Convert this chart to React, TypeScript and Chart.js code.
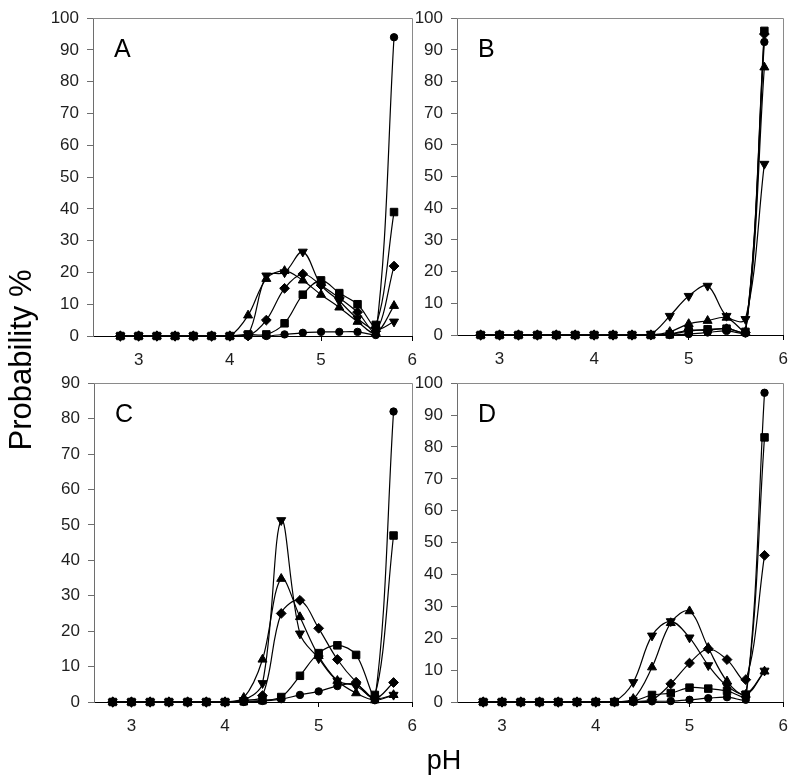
import React, { useEffect, useRef } from 'react';
import { Chart, registerables } from 'chart.js';

Chart.register(...registerables);

// pH values (x) shared by all panels
const PH = [2.8, 3.0, 3.2, 3.4, 3.6, 3.8, 4.0, 4.2, 4.4, 4.6, 4.8, 5.0, 5.2, 5.4, 5.6, 5.8];
const X_TICKS = [3, 4, 5, 6];
const PANEL_LETTERS = ['A', 'B', 'C', 'D'];
const Y_TITLE = 'Probability %';
const X_TITLE = 'pH';

// Panel A
const A_CIRCLE = [0, 0, 0, 0, 0, 0, 0, 0, 0, 0.5, 1, 1.3, 1.3, 1.3, 0.3, 94];
const A_SQUARE = [0, 0, 0, 0, 0, 0, 0, 0.5, 0.5, 4, 13, 17.5, 13.5, 10, 3.5, 39];
const A_DIAMOND = [0, 0, 0, 0, 0, 0, 0, 0, 5, 15, 19.5, 16, 12, 7.5, 1.5, 22];
const A_TRI_UP = [0, 0, 0, 0, 0, 0, 0, 6.5, 18, 20.5, 17.5, 13, 9, 4.5, 1, 9.5];
const A_TRI_DOWN = [0, 0, 0, 0, 0, 0, 0, 0.5, 19, 20, 26.5, 16, 11, 5.5, 2, 4.5];

// Panel B
const B_CIRCLE = [0, 0, 0, 0, 0, 0, 0, 0, 0, 0, 0, 0.3, 0.8, 1.3, 0.5, 92.5];
const B_SQUARE = [0, 0, 0, 0, 0, 0, 0, 0, 0, 0, 0.2, 1.2, 1.8, 2, 1, 96];
const B_DIAMOND = [0, 0, 0, 0, 0, 0, 0, 0, 0, 0, 0.3, 1.5, 1.5, 2, 0.8, 95];
const B_TRI_UP = [0, 0, 0, 0, 0, 0, 0, 0, 0, 0, 1, 3.5, 4.5, 5.5, 1, 84.5];
const B_TRI_DOWN = [0, 0, 0, 0, 0, 0, 0, 0, 0, 0.3, 6, 12.3, 15.5, 6, 5, 54];

// Panel C
const C_CIRCLE = [0, 0, 0, 0, 0, 0, 0, 0, 0.3, 0.8, 2, 3, 4.5, 5, 0.5, 82];
const C_SQUARE = [0, 0, 0, 0, 0, 0, 0, 0.2, 0.5, 1.4, 7.4, 13.8, 16, 13.3, 2, 47];
const C_DIAMOND = [0, 0, 0, 0, 0, 0, 0, 0.5, 1.8, 25, 28.7, 20.8, 12, 5.6, 1, 5.5];
const C_TRI_UP = [0, 0, 0, 0, 0, 0, 0, 1.2, 12, 34.8, 24, 13, 6, 2.5, 0.5, 2];
const C_TRI_DOWN = [0, 0, 0, 0, 0, 0, 0, 0.5, 5.3, 51.3, 19.3, 12.3, 6, 4.5, 1, 2];

// Panel D
const D_CIRCLE = [0, 0, 0, 0, 0, 0, 0, 0, 0, 0.2, 0.3, 0.7, 1.2, 1.5, 0.7, 97];
const D_SQUARE = [0, 0, 0, 0, 0, 0, 0, 0, 0.3, 2.2, 2.8, 4.5, 4.2, 3.5, 2.3, 83];
const D_DIAMOND = [0, 0, 0, 0, 0, 0, 0, 0, 0.2, 0.7, 5.7, 12.2, 16.7, 13.3, 7, 46];
const D_TRI_UP = [0, 0, 0, 0, 0, 0, 0, 0, 1, 10.9, 24.8, 28.5, 17, 6.5, 2.3, 9.6];
const D_TRI_DOWN = [0, 0, 0, 0, 0, 0, 0, 0.2, 6.2, 20.8, 25.3, 20.2, 11.5, 5, 2.5, 9.8];

const FONT = '"Liberation Sans", Arial, Helvetica, sans-serif';

const MARKERS = [
  { style: 'circle', radius: 3.7, rotation: 0 },
  { style: 'rect', radius: 5.3, rotation: 0 },
  { style: 'rectRot', radius: 4.9, rotation: 0 },
  { style: 'triangle', radius: 5.2, rotation: 0 },
  { style: 'triangle', radius: 5.2, rotation: 180 },
];

type PanelSpec = {
  letter: string;
  series: number[][];
  xMin: number;
  yMax: number;
  left: number;
  top: number;
  width: number;
  height: number;
  padTop: number;
  yAxisWidth: number;
};

const PANELS: PanelSpec[] = [
  { letter: PANEL_LETTERS[0], series: [A_CIRCLE, A_SQUARE, A_DIAMOND, A_TRI_UP, A_TRI_DOWN], xMin: 2.5, yMax: 100, left: 30, top: 0, width: 396, height: 380, padTop: 13, yAxisWidth: 63 },
  { letter: PANEL_LETTERS[1], series: [B_CIRCLE, B_SQUARE, B_DIAMOND, B_TRI_UP, B_TRI_DOWN], xMin: 2.55, yMax: 100, left: 400, top: 0, width: 397, height: 379, padTop: 13, yAxisWidth: 57 },
  { letter: PANEL_LETTERS[2], series: [C_CIRCLE, C_SQUARE, C_DIAMOND, C_TRI_UP, C_TRI_DOWN], xMin: 2.6, yMax: 90, left: 30, top: 365, width: 396, height: 381, padTop: 13, yAxisWidth: 64 },
  { letter: PANEL_LETTERS[3], series: [D_CIRCLE, D_SQUARE, D_DIAMOND, D_TRI_UP, D_TRI_DOWN], xMin: 2.52, yMax: 100, left: 400, top: 365, width: 397, height: 381, padTop: 14, yAxisWidth: 57 },
];

function makeFramePlugin(letter: string) {
  return {
    id: 'frameAndLetter',
    beforeDatasetsDraw(chart: any) {
      const { ctx, chartArea: a } = chart;
      ctx.save();
      ctx.strokeStyle = '#8a8a8a';
      ctx.lineWidth = 1;
      ctx.beginPath();
      ctx.moveTo(Math.round(a.left), Math.round(a.top) + 0.5);
      ctx.lineTo(Math.round(a.right) + 0.5, Math.round(a.top) + 0.5);
      ctx.lineTo(Math.round(a.right) + 0.5, Math.round(a.bottom));
      ctx.stroke();
      ctx.fillStyle = '#000';
      ctx.font = `25px ${FONT}`;
      ctx.textBaseline = 'alphabetic';
      ctx.textAlign = 'left';
      ctx.fillText(letter, a.left + 21, a.top + 39);
      ctx.restore();
    },
  };
}

function Panel({ spec }: { spec: PanelSpec }) {
  const ref = useRef<HTMLCanvasElement>(null);
  useEffect(() => {
    const canvas = ref.current;
    if (!canvas) return;
    const datasets = spec.series.map((vals, i) => ({
      data: PH.map((x, j) => ({ x, y: vals[j] })),
      borderColor: '#000',
      backgroundColor: '#000',
      borderWidth: 1.2,
      pointStyle: MARKERS[i].style as any,
      pointRadius: MARKERS[i].radius,
      pointRotation: MARKERS[i].rotation,
      pointBackgroundColor: '#000',
      pointBorderColor: '#000',
      pointBorderWidth: 1,
      tension: 0.35,
      fill: false,
      clip: false as any,
    }));
    const chart = new Chart(canvas, {
      type: 'line',
      data: { datasets },
      options: {
        responsive: false,
        animation: false,
        devicePixelRatio: 1,
        layout: { padding: { top: spec.padTop, right: 10, left: 0, bottom: 0 } },
        plugins: { legend: { display: false }, tooltip: { enabled: false }, title: { display: false } },
        scales: {
          x: {
            type: 'linear',
            min: spec.xMin,
            max: 6,
            afterBuildTicks: (s: any) => {
              s.ticks = X_TICKS.map((v) => ({ value: v }));
            },
            afterFit: (s: any) => {
              s.height = 44;
            },
            ticks: {
              font: { family: FONT, size: 17 },
              color: '#1e1e1e',
              padding: 9,
              maxRotation: 0,
              autoSkip: false,
              callback: (v: any) => String(v),
            },
            grid: { display: true, drawOnChartArea: false, drawTicks: true, tickLength: 5, color: '#000' },
            border: { display: true, color: '#000', width: 1 },
          },
          y: {
            type: 'linear',
            min: 0,
            max: spec.yMax,
            afterFit: (s: any) => {
              s.width = spec.yAxisWidth;
            },
            ticks: {
              stepSize: 10,
              font: { family: FONT, size: 17 },
              color: '#1e1e1e',
              padding: 8,
            },
            grid: { display: true, drawOnChartArea: false, drawTicks: true, tickLength: 6, color: '#6e6e6e' },
            border: { display: true, color: '#6e6e6e', width: 1 },
          },
        },
      },
      plugins: [makeFramePlugin(spec.letter)],
    });
    return () => chart.destroy();
  }, [spec]);
  return (
    <canvas
      ref={ref}
      width={spec.width}
      height={spec.height}
      style={{ position: 'absolute', left: spec.left, top: spec.top, width: spec.width, height: spec.height }}
    />
  );
}

export default function App() {
  return (
    <div style={{ position: 'absolute', left: 0, top: 0, width: 800, height: 781, background: '#fff', overflow: 'hidden' }}>
      {PANELS.map((p) => (
        <Panel key={p.letter} spec={p} />
      ))}
      <div
        style={{
          position: 'absolute',
          left: 21 - 150,
          top: 360 - 15,
          width: 300,
          height: 30,
          lineHeight: '30px',
          fontSize: 31,
          fontFamily: FONT,
          textAlign: 'center',
          color: '#000',
          transform: 'rotate(-90deg)',
          whiteSpace: 'nowrap',
        }}
      >
        {Y_TITLE}
      </div>
      <div
        style={{
          position: 'absolute',
          left: 444 - 100,
          top: 747,
          width: 200,
          height: 27,
          lineHeight: '27px',
          fontSize: 27,
          fontFamily: FONT,
          textAlign: 'center',
          color: '#000',
          whiteSpace: 'nowrap',
        }}
      >
        {X_TITLE}
      </div>
    </div>
  );
}
